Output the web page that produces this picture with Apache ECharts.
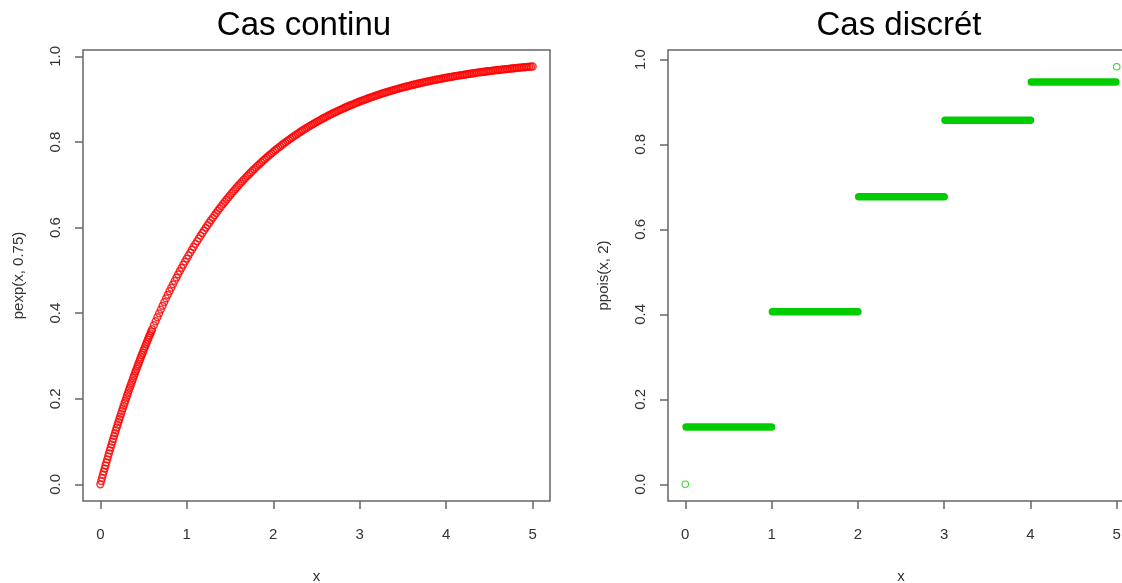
<!DOCTYPE html>
<html>
<head>
<meta charset="utf-8">
<script src="https://cdn.jsdelivr.net/npm/echarts@6/dist/echarts.min.js"></script>
<style>
  html, body { margin: 0; padding: 0; background: #fff; }
  #chart { width: 1122px; height: 583px; }
</style>
</head>
<body>
<div id="chart"></div>
<script>
// left panel: x and pexp(x, 0.75)
const xCont = [
  0, 0.01, 0.02, 0.03, 0.04, 0.05, 0.06, 0.07, 0.08, 0.09,
  0.1, 0.11, 0.12, 0.13, 0.14, 0.15, 0.16, 0.17, 0.18, 0.19,
  0.2, 0.21, 0.22, 0.23, 0.24, 0.25, 0.26, 0.27, 0.28, 0.29,
  0.3, 0.31, 0.32, 0.33, 0.34, 0.35, 0.36, 0.37, 0.38, 0.39,
  0.4, 0.41, 0.42, 0.43, 0.44, 0.45, 0.46, 0.47, 0.48, 0.49,
  0.5, 0.51, 0.52, 0.53, 0.54, 0.55, 0.56, 0.57, 0.58, 0.59,
  0.6, 0.62, 0.64, 0.66, 0.68, 0.7, 0.72, 0.74, 0.76, 0.78,
  0.8, 0.82, 0.84, 0.86, 0.88, 0.9, 0.92, 0.94, 0.96, 0.98,
  1.0, 1.02, 1.04, 1.06, 1.08, 1.1, 1.12, 1.14, 1.16, 1.18,
  1.2, 1.22, 1.24, 1.26, 1.28, 1.3, 1.32, 1.34, 1.36, 1.38,
  1.4, 1.42, 1.44, 1.46, 1.48, 1.5, 1.52, 1.54, 1.56, 1.58,
  1.6, 1.62, 1.64, 1.66, 1.68, 1.7, 1.72, 1.74, 1.76, 1.78,
  1.8, 1.82, 1.84, 1.86, 1.88, 1.9, 1.92, 1.94, 1.96, 1.98,
  2.0, 2.02, 2.04, 2.06, 2.08, 2.1, 2.12, 2.14, 2.16, 2.18,
  2.2, 2.22, 2.24, 2.26, 2.28, 2.3, 2.32, 2.34, 2.36, 2.38,
  2.4, 2.42, 2.44, 2.46, 2.48, 2.5, 2.52, 2.54, 2.56, 2.58,
  2.6, 2.62, 2.64, 2.66, 2.68, 2.7, 2.72, 2.74, 2.76, 2.78,
  2.8, 2.82, 2.84, 2.86, 2.88, 2.9, 2.92, 2.94, 2.96, 2.98,
  3.0, 3.02, 3.04, 3.06, 3.08, 3.1, 3.12, 3.14, 3.16, 3.18,
  3.2, 3.22, 3.24, 3.26, 3.28, 3.3, 3.32, 3.34, 3.36, 3.38,
  3.4, 3.42, 3.44, 3.46, 3.48, 3.5, 3.52, 3.54, 3.56, 3.58,
  3.6, 3.62, 3.64, 3.66, 3.68, 3.7, 3.72, 3.74, 3.76, 3.78,
  3.8, 3.82, 3.84, 3.86, 3.88, 3.9, 3.92, 3.94, 3.96, 3.98,
  4.0, 4.02, 4.04, 4.06, 4.08, 4.1, 4.12, 4.14, 4.16, 4.18,
  4.2, 4.22, 4.24, 4.26, 4.28, 4.3, 4.32, 4.34, 4.36, 4.38,
  4.4, 4.42, 4.44, 4.46, 4.48, 4.5, 4.52, 4.54, 4.56, 4.58,
  4.6, 4.62, 4.64, 4.66, 4.68, 4.7, 4.72, 4.74, 4.76, 4.78,
  4.8, 4.82, 4.84, 4.86, 4.88, 4.9, 4.92, 4.94, 4.96, 4.98,
  5.0
]
const pCont = [
  0, .0075, .0149, .0223, .0296, .0368, .0440, .0512, .0582, .0653,
  .0723, .0792, .0861, .0929, .0997, .1064, .1131, .1197, .1263, .1328,
  .1393, .1457, .1521, .1584, .1647, .1710, .1772, .1833, .1894, .1955,
  .2015, .2075, .2134, .2193, .2251, .2309, .2366, .2423, .2480, .2536,
  .2592, .2647, .2702, .2757, .2811, .2865, .2918, .2971, .3023, .3075,
  .3127, .3179, .3229, .3280, .3330, .3380, .3430, .3479, .3527, .3576,
  .3624, .3719, .3812, .3904, .3995, .4084, .4172, .4259, .4345, .4429,
  .4512, .4594, .4674, .4753, .4832, .4908, .4984, .5059, .5132, .5205,
  .5276, .5347, .5416, .5484, .5551, .5618, .5683, .5747, .5811, .5873,
  .5934, .5995, .6054, .6113, .6171, .6228, .6284, .6340, .6394, .6448,
  .6501, .6553, .6604, .6655, .6704, .6753, .6802, .6849, .6896, .6943,
  .6988, .7033, .7077, .7121, .7163, .7206, .7247, .7288, .7329, .7368,
  .7408, .7446, .7484, .7522, .7559, .7595, .7631, .7666, .7701, .7735,
  .7769, .7802, .7835, .7867, .7899, .7930, .7961, .7991, .8021, .8050,
  .8080, .8108, .8136, .8164, .8191, .8218, .8245, .8271, .8297, .8322,
  .8347, .8372, .8396, .8420, .8443, .8466, .8489, .8512, .8534, .8556,
  .8577, .8598, .8619, .8640, .8660, .8680, .8700, .8719, .8738, .8757,
  .8775, .8794, .8812, .8829, .8847, .8864, .8881, .8897, .8914, .8930,
  .8946, .8962, .8977, .8992, .9007, .9022, .9037, .9051, .9065, .9079,
  .9093, .9106, .9120, .9133, .9146, .9158, .9171, .9183, .9195, .9207,
  .9219, .9231, .9242, .9254, .9265, .9276, .9286, .9297, .9307, .9318,
  .9328, .9338, .9348, .9357, .9367, .9377, .9386, .9395, .9404, .9413,
  .9422, .9430, .9439, .9447, .9455, .9463, .9471, .9479, .9487, .9495,
  .9502, .9510, .9517, .9524, .9531, .9538, .9545, .9552, .9558, .9565,
  .9571, .9578, .9584, .9590, .9596, .9602, .9608, .9614, .9620, .9626,
  .9631, .9637, .9642, .9647, .9653, .9658, .9663, .9668, .9673, .9678,
  .9683, .9687, .9692, .9697, .9701, .9705, .9710, .9714, .9718, .9723,
  .9727, .9731, .9735, .9739, .9743, .9747, .9750, .9754, .9758, .9761,
  .9765
]

// right panel: ppois(x, 2) steps, plus the two lone points
const stepFrom = [0.01, 1.01, 2.01, 3.01, 4.01]
const stepTo = [1.0, 2.0, 3.0, 4.0, 4.99]
const stepLevel = [0.135, 0.406, 0.677, 0.857, 0.947]
const xDisc = [0, 5]
const pDisc = [0, 0.983]

const xTicks = [0, 1, 2, 3, 4, 5]
const yTicks = [0, 0.2, 0.4, 0.6, 0.8, 1.0]

const lineCol = '#666'
const txtCol = '#333'
const font = 'Liberation Sans, Arial, sans-serif'

let myChart = echarts.init(document.getElementById('chart'))

function makeX(idx) {
  return {
    type: 'value',
    gridIndex: idx,
    min: -0.2,
    max: 5.2,
    name: 'x',
    nameLocation: 'middle',
    nameGap: 68,
    nameTextStyle: { color: txtCol, fontSize: 15, fontFamily: font },
    axisLine: { show: false, onZero: false },
    splitLine: { show: false },
    axisTick: { show: true, inside: false, length: 8, customValues: xTicks, lineStyle: { color: lineCol, width: 1.5 } },
    axisLabel: { customValues: xTicks, margin: 26, color: txtCol, fontSize: 15, fontFamily: font }
  }
}

function makeY(idx, lo, hi, title) {
  return {
    type: 'value',
    gridIndex: idx,
    min: lo,
    max: hi,
    name: title,
    nameLocation: 'middle',
    nameRotate: 90,
    nameGap: 57,
    nameTextStyle: { color: txtCol, fontSize: 15, fontFamily: font },
    axisLine: { show: false, onZero: false },
    splitLine: { show: false },
    axisTick: { show: true, inside: false, length: 8, customValues: yTicks, lineStyle: { color: lineCol, width: 1.5 } },
    axisLabel: {
      customValues: yTicks,
      rotate: 90,
      margin: 20,
      color: txtCol,
      fontSize: 15,
      fontFamily: font,
      formatter: (v) => v.toFixed(1)
    }
  }
}

const stepSeries = stepLevel.map((lv, i) => ({
  type: 'line',
  xAxisIndex: 1,
  yAxisIndex: 1,
  showSymbol: false,
  silent: true,
  lineStyle: { color: '#00cd00', width: 7.5, cap: 'round' },
  data: [[stepFrom[i], lv], [stepTo[i], lv]]
}))

const option = {
  animation: false,
  backgroundColor: '#fff',
  title: [
    {
      text: 'Cas continu',
      left: 304,
      top: 9,
      padding: 0,
      textAlign: 'center',
      textStyle: { fontSize: 33, fontWeight: 'normal', color: '#000', fontFamily: font }
    },
    {
      text: 'Cas discrét',
      left: 899,
      top: 9,
      padding: 0,
      textAlign: 'center',
      textStyle: { fontSize: 33, fontWeight: 'normal', color: '#000', fontFamily: font }
    }
  ],
  grid: [
    { left: 83, top: 50, width: 467, height: 451, show: true, borderColor: lineCol, borderWidth: 1.5, backgroundColor: 'transparent', containLabel: false, outerBoundsMode: 'none' },
    { left: 668, top: 50, width: 466, height: 451, show: true, borderColor: lineCol, borderWidth: 1.5, backgroundColor: 'transparent', containLabel: false, outerBoundsMode: 'none' }
  ],
  xAxis: [makeX(0), makeX(1)],
  yAxis: [
    makeY(0, -0.039, 1.015, 'pexp(x, 0.75)'),
    makeY(1, -0.0393, 1.0223, 'ppois(x, 2)')
  ],
  series: [
    {
      type: 'scatter',
      xAxisIndex: 0,
      yAxisIndex: 0,
      symbol: 'circle',
      symbolSize: 6.8,
      silent: true,
      itemStyle: { color: 'rgba(0,0,0,0)', borderColor: '#ff0000', borderWidth: 1.5 },
      data: xCont.map((x, i) => [x, pCont[i]])
    },
    ...stepSeries,
    {
      type: 'scatter',
      xAxisIndex: 1,
      yAxisIndex: 1,
      symbol: 'circle',
      symbolSize: 6.5,
      silent: true,
      itemStyle: { color: 'rgba(0,0,0,0)', borderColor: '#00cd00', borderWidth: 1.1 },
      data: xDisc.map((x, i) => [x, pDisc[i]])
    }
  ]
}

myChart.setOption(option)
</script>
</body>
</html>
